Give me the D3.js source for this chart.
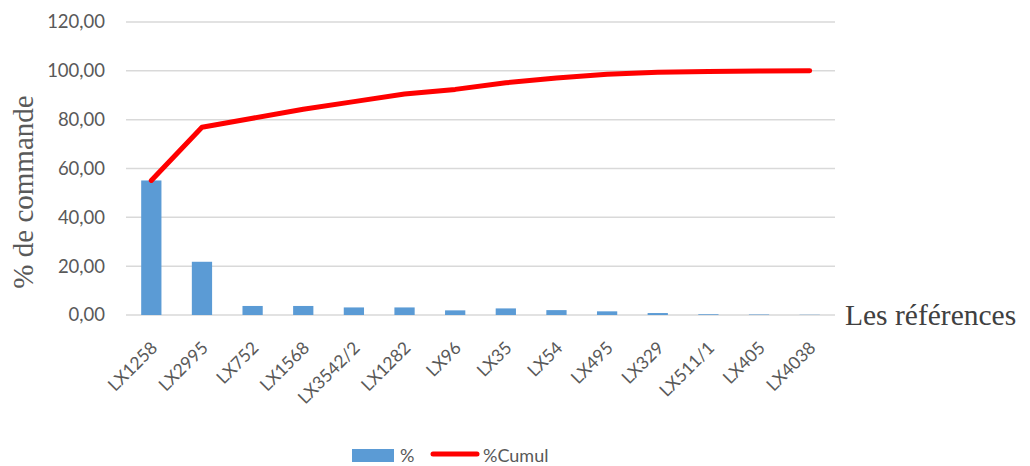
<!DOCTYPE html>
<html>
<head>
<meta charset="utf-8">
<script src="https://cdn.jsdelivr.net/npm/d3@7"></script>
<style>
  body { margin: 0; background: #fff; }
  svg { display: block; }
</style>
</head>
<body>
<div id="chart"></div>
<script>
// data
const references = ["LX1258", "LX2995", "LX752", "LX1568", "LX3542/2", "LX1282", "LX96",
                    "LX35", "LX54", "LX495", "LX329", "LX511/1", "LX405", "LX4038"];
const percent = [55.1, 21.8, 3.7, 3.7, 3.1, 3.1, 1.9, 2.7, 2.0, 1.5, 0.8, 0.3, 0.2, 0.1];
const cumul = [55.1, 76.9, 80.6, 84.3, 87.4, 90.5, 92.4, 95.1, 97.1, 98.6, 99.4, 99.7, 99.9, 100];
const yTicks = [0, 20, 40, 60, 80, 100, 120];

const width = 1030, height = 466;
const margin = {left: 126, right: 195, top: 22, bottom: 151};

const svg = d3.select("#chart").append("svg")
    .attr("width", width)
    .attr("height", height);

const x = d3.scaleBand()
    .domain(references)
    .range([margin.left, width - margin.right]);

const y = d3.scaleLinear()
    .domain([0, 120])
    .range([height - margin.bottom, margin.top]);

const labelFont = "Lato, 'Open Sans', sans-serif";
const serifFont = "'Liberation Serif', 'DejaVu Serif', serif";

// grid lines
svg.append("g")
    .selectAll("line")
    .data(yTicks)
    .join("line")
    .attr("x1", margin.left)
    .attr("x2", width - margin.right)
    .attr("y1", d => y(d))
    .attr("y2", d => y(d))
    .attr("stroke", "#d9d9d9")
    .attr("stroke-width", 1.5);

// y axis labels
svg.append("g")
    .attr("transform", `translate(${margin.left - 18},0)`)
    .call(d3.axisLeft(y).tickValues(yTicks).tickSize(0).tickFormat(d => d3.format(".2f")(d).replace(".", ",")))
    .call(g => g.select(".domain").remove())
    .call(g => g.selectAll("text")
        .attr("fill", "#595959")
        .attr("font-family", labelFont)
        .attr("font-size", 18.5));

// x axis labels
svg.append("g")
    .attr("transform", `translate(0,${height - margin.bottom})`)
    .call(d3.axisBottom(x).tickSize(0))
    .call(g => g.select(".domain").remove())
    .call(g => g.selectAll("text")
        .attr("fill", "#595959")
        .attr("font-family", labelFont)
        .attr("font-size", 17.5)
        .attr("text-anchor", "end")
        .attr("dy", null)
        .attr("transform", "translate(5,32) rotate(-45)"));

// bars
const barW = x.bandwidth() * 0.4;
svg.append("g")
    .selectAll("rect")
    .data(percent)
    .join("rect")
    .attr("x", (d, i) => x(references[i]) + (x.bandwidth() - barW) / 2)
    .attr("y", d => y(d))
    .attr("width", barW)
    .attr("height", d => y(0) - y(d))
    .attr("fill", "#5b9bd5");

// cumulative line
const line = d3.line()
    .x((d, i) => x(references[i]) + x.bandwidth() / 2)
    .y(d => y(d));

svg.append("path")
    .datum(cumul)
    .attr("d", line)
    .attr("fill", "none")
    .attr("stroke", "#ff0000")
    .attr("stroke-width", 5)
    .attr("stroke-linejoin", "round")
    .attr("stroke-linecap", "round");

// axis titles
svg.append("text")
    .attr("transform", `translate(33,192) rotate(-90)`)
    .attr("text-anchor", "middle")
    .attr("font-family", serifFont)
    .attr("font-size", 29)
    .attr("fill", "#595959")
    .text("% de commande");

svg.append("text")
    .attr("x", 845)
    .attr("y", y(0) + 10)
    .attr("font-family", serifFont)
    .attr("font-size", 29.5)
    .attr("fill", "#404040")
    .text("Les références");

// legend
const legend = svg.append("g").attr("font-family", labelFont).attr("font-size", 18).attr("fill", "#595959");
legend.append("rect")
    .attr("x", 352).attr("y", 449).attr("width", 42).attr("height", 13)
    .attr("fill", "#5b9bd5");
legend.append("text").attr("x", 400).attr("y", 462).text("%");
legend.append("line")
    .attr("x1", 433).attr("x2", 477).attr("y1", 454).attr("y2", 454)
    .attr("stroke", "#ff0000").attr("stroke-width", 5).attr("stroke-linecap", "round");
legend.append("text").attr("x", 483).attr("y", 462).text("%Cumul");
</script>
</body>
</html>
